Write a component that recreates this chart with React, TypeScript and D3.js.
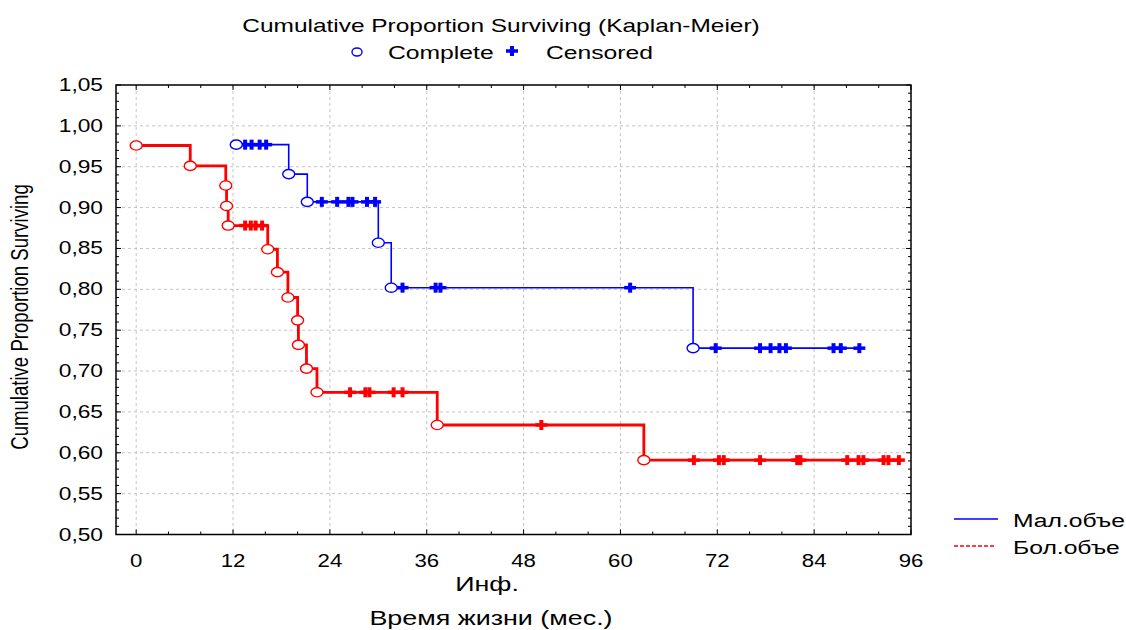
import React from 'react';
import * as d3 from 'd3';

const width = 1126;
const height = 630;
const SX = 1.3; // the source picture is stretched horizontally
const FONT = '"Liberation Sans", Arial, sans-serif';

// Бол.объе (red)
const redEventTimes = [0, 6.7, 11.1, 11.2, 11.4, 16.3, 17.5, 18.8, 20.0, 20.1, 21.1, 22.4, 37.3, 62.9];
const redEventSurv = [0.976, 0.951, 0.927, 0.902, 0.878, 0.849, 0.821, 0.79, 0.762, 0.732, 0.703, 0.674, 0.634, 0.591];
const redCensTimes = [13.5, 14.2, 14.8, 15.6, 26.5, 28.4, 28.9, 31.9, 33.0, 50.2, 69.1, 72.2, 72.8, 77.3, 81.9, 82.3, 88.1, 89.5, 90.1, 92.6, 93.2, 94.5];
const redCensSurv = [0.878, 0.878, 0.878, 0.878, 0.674, 0.674, 0.674, 0.674, 0.674, 0.634, 0.591, 0.591, 0.591, 0.591, 0.591, 0.591, 0.591, 0.591, 0.591, 0.591, 0.591, 0.591];

// Мал.объе (blue)
const blueEventTimes = [12.4, 18.9, 21.2, 30.0, 31.6, 69.0];
const blueEventSurv = [0.977, 0.941, 0.907, 0.857, 0.802, 0.728];
const blueCensTimes = [13.5, 14.3, 15.3, 16.1, 23.0, 24.9, 26.3, 26.8, 28.6, 29.6, 33.0, 37.1, 37.7, 61.2, 71.8, 77.3, 78.6, 79.7, 80.5, 86.4, 87.3, 89.6];
const blueCensSurv = [0.977, 0.977, 0.977, 0.977, 0.907, 0.907, 0.907, 0.907, 0.907, 0.907, 0.802, 0.802, 0.802, 0.802, 0.728, 0.728, 0.728, 0.728, 0.728, 0.728, 0.728, 0.728];

const xTicks = [0, 12, 24, 36, 48, 60, 72, 84, 96];
const yTicks = [0.5, 0.55, 0.6, 0.65, 0.7, 0.75, 0.8, 0.85, 0.9, 0.95, 1.0, 1.05];
const legendNames = ['Мал.объе', 'Бол.объе'];

const x = d3.scaleLinear().domain([-2.5, 96]).range([116, 911]);
const y = d3.scaleLinear().domain([0.5, 1.05]).range([534.5, 85]);
const fmt = (v: number) => d3.format('.2f')(v).replace('.', ',');

function Txt({ x, y, size, anchor = 'start', sx = SX, children }: any) {
  return (
    <text transform={`translate(${x},${y}) scale(${sx},1)`} fontSize={size} textAnchor={anchor} fontFamily={FONT} fill="#000">
      {children}
    </text>
  );
}

function Plus({ cx, cy, color }: any) {
  return (
    <g stroke={color} fill="none">
      <line x1={cx - 6} x2={cx + 6} y1={cy} y2={cy} strokeWidth={3.5} />
      <line x1={cx} x2={cx} y1={cy - 5} y2={cy + 5} strokeWidth={4} />
    </g>
  );
}

function Curve({ et, es, ct, cs, color, lw }: any) {
  const pts = et.map((t: number, i: number) => [t, es[i]]).concat(ct.map((t: number, i: number) => [t, cs[i]]));
  pts.sort((a: number[], b: number[]) => a[0] - b[0]);
  const path = d3.line<number[]>().x(d => x(d[0])).y(d => y(d[1])).curve(d3.curveStepAfter)(pts);
  return (
    <g>
      <path d={path || ''} fill="none" stroke={color} strokeWidth={lw} />
      {ct.map((t: number, i: number) => <Plus key={'c' + i} cx={x(t)} cy={y(cs[i])} color={color} />)}
      {et.map((t: number, i: number) => (
        <ellipse key={'e' + i} cx={x(t)} cy={y(es[i])} rx={6} ry={4.6} fill="#fff" stroke={color} strokeWidth={1.4} />
      ))}
    </g>
  );
}

export default function App() {
  const [x0, x1] = x.range();
  const [y0, y1] = y.range();
  const minorX = d3.range(0, 96.1, 4);
  const minorY = d3.range(50, 106).map(v => v / 100);

  return (
    <div style={{ position: 'absolute', left: 0, top: 0 }}>
      <svg width={width} height={height} style={{ display: 'block', background: '#fff' }}>
        {/* grid */}
        <g stroke="#c4c4c4" strokeWidth={1} strokeDasharray="3,3">
          {xTicks.slice(0, -1).map(t => <line key={t} x1={x(t)} x2={x(t)} y1={y1} y2={y0} />)}
          {yTicks.slice(1, -1).map(t => <line key={t} x1={x0} x2={x1} y1={y(t)} y2={y(t)} />)}
        </g>

        {/* ticks (inward) */}
        <g stroke="#000" strokeWidth={1}>
          {minorX.map(t => {
            const major = t % 12 === 0;
            return (
              <g key={t}>
                <line x1={x(t)} x2={x(t)} y1={y0} y2={y0 - (major ? 5 : 3)} />
                <line x1={x(t)} x2={x(t)} y1={y1} y2={y1 + (major ? 5 : 3)} />
              </g>
            );
          })}
          {minorY.map(v => {
            const major = Math.round(v * 100) % 5 === 0;
            return (
              <g key={v}>
                <line x1={x0} x2={x0 + (major ? 5 : 3)} y1={y(v)} y2={y(v)} />
                <line x1={x1} x2={x1 - (major ? 5 : 3)} y1={y(v)} y2={y(v)} />
              </g>
            );
          })}
        </g>
        <rect x={x0} y={y1} width={x1 - x0} height={y0 - y1} fill="none" stroke="#000" strokeWidth={1.5} />

        {/* curves */}
        <Curve et={blueEventTimes} es={blueEventSurv} ct={blueCensTimes} cs={blueCensSurv} color="#0000ff" lw={1.6} />
        <Curve et={redEventTimes} es={redEventSurv} ct={redCensTimes} cs={redCensSurv} color="#ff0000" lw={2.8} />

        {/* tick labels */}
        {yTicks.map(t => <Txt key={t} x={103} y={y(t) + 6} size={17.5} anchor="end">{fmt(t)}</Txt>)}
        {xTicks.map(t => <Txt key={t} x={x(t)} y={567} size={18.5} sx={1.2} anchor="middle">{t}</Txt>)}

        {/* axis titles */}
        <Txt x={487} y={591} size={21} sx={1.28} anchor="middle">Инф.</Txt>
        <Txt x={491} y={625} size={21} sx={1.28} anchor="middle">Время жизни (мес.)</Txt>
        <text transform={`translate(28,317) scale(${SX},1) rotate(-90)`} fontSize={18.6} textAnchor="middle" fontFamily={FONT}>
          Cumulative Proportion Surviving
        </text>

        {/* title + marker legend */}
        <Txt x={501} y={32} size={18.8} anchor="middle">Cumulative Proportion Surviving (Kaplan-Meier)</Txt>
        <ellipse cx={357} cy={52} rx={5} ry={4} fill="#fff" stroke="#0000ff" strokeWidth={1.4} />
        <Txt x={388} y={59} size={19}>Complete</Txt>
        <Plus cx={512} cy={51} color="#0000ff" />
        <Txt x={546} y={59} size={19}>Censored</Txt>

        {/* group legend */}
        <line x1={954} x2={998} y1={519} y2={519} stroke="#0000ff" strokeWidth={1.3} />
        <Txt x={1013} y={527} size={19}>{legendNames[0]}</Txt>
        <line x1={954} x2={994} y1={546} y2={546} stroke="#ff0000" strokeWidth={1.3} strokeDasharray="4,2" />
        <Txt x={1013} y={554} size={19}>{legendNames[1]}</Txt>
      </svg>
    </div>
  );
}
